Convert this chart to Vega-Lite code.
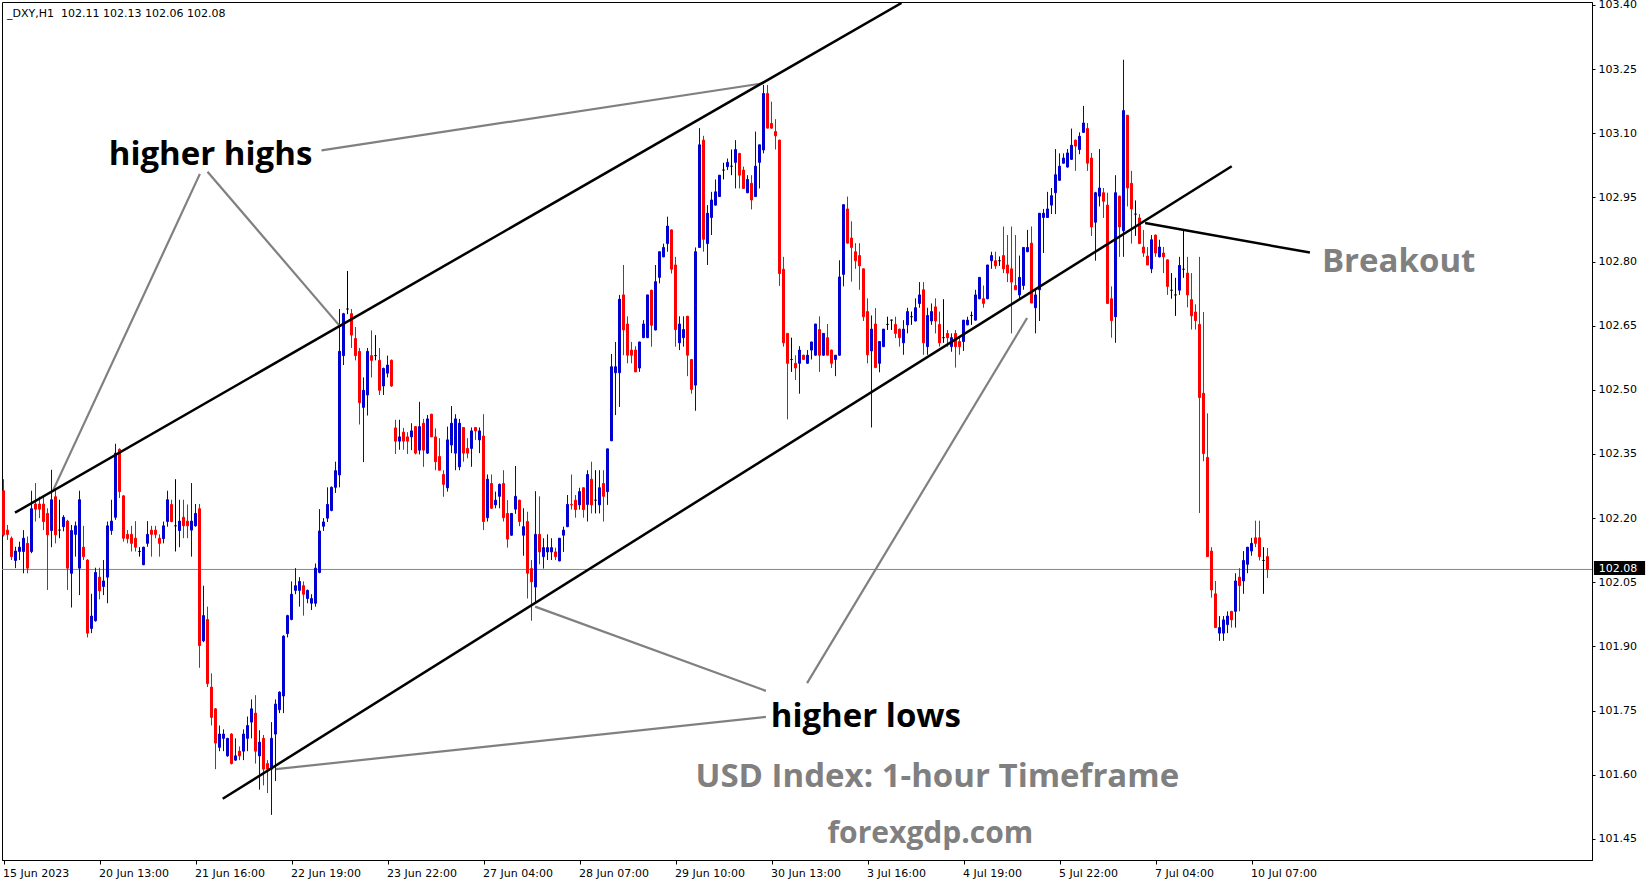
{
"$schema": "https://vega.github.io/schema/vega-lite/v6.json",
"width": 1590, "height": 858,
"autosize": {"type": "none"},
"padding": {"left": 2, "top": 2, "right": 57, "bottom": 24},
"background": "white",
"config": {"view": {"stroke": "#000000", "strokeWidth": 1}, "scale": {"continuousPadding": 0}},
"datasets": {
"candles": [
{"i":0,"o":102.264,"h":102.291,"l":102.157,"c":102.161},
{"i":1,"o":102.172,"h":102.184,"l":102.149,"c":102.162},
{"i":2,"o":102.153,"h":102.157,"l":102.102,"c":102.110},
{"i":3,"o":102.101,"h":102.133,"l":102.083,"c":102.123},
{"i":4,"o":102.122,"h":102.145,"l":102.102,"c":102.132},
{"i":5,"o":102.122,"h":102.172,"l":102.071,"c":102.153},
{"i":6,"o":102.141,"h":102.157,"l":102.071,"c":102.083},
{"i":7,"o":102.122,"h":102.264,"l":102.118,"c":102.222},
{"i":8,"o":102.233,"h":102.282,"l":102.192,"c":102.221},
{"i":9,"o":102.233,"h":102.250,"l":102.200,"c":102.221},
{"i":10,"o":102.233,"h":102.250,"l":102.172,"c":102.192},
{"i":11,"o":102.211,"h":102.223,"l":102.032,"c":102.161},
{"i":12,"o":102.171,"h":102.313,"l":102.132,"c":102.243},
{"i":13,"o":102.250,"h":102.266,"l":102.141,"c":102.161},
{"i":14,"o":102.172,"h":102.243,"l":102.153,"c":102.172},
{"i":15,"o":102.180,"h":102.207,"l":102.169,"c":102.202},
{"i":16,"o":102.193,"h":102.196,"l":102.032,"c":102.083},
{"i":17,"o":102.071,"h":102.184,"l":101.991,"c":102.171},
{"i":18,"o":102.162,"h":102.192,"l":102.110,"c":102.182},
{"i":19,"o":102.083,"h":102.264,"l":102.020,"c":102.243},
{"i":20,"o":102.132,"h":102.182,"l":102.102,"c":102.110},
{"i":21,"o":102.102,"h":102.104,"l":101.921,"c":101.931},
{"i":22,"o":101.942,"h":102.023,"l":101.931,"c":101.971},
{"i":23,"o":101.960,"h":102.084,"l":101.958,"c":102.073},
{"i":24,"o":102.062,"h":102.084,"l":102.010,"c":102.030},
{"i":25,"o":102.040,"h":102.102,"l":102.020,"c":102.053},
{"i":26,"o":102.062,"h":102.192,"l":102.001,"c":102.182},
{"i":27,"o":102.171,"h":102.243,"l":102.161,"c":102.193},
{"i":28,"o":102.202,"h":102.374,"l":102.196,"c":102.352},
{"i":29,"o":102.361,"h":102.363,"l":102.247,"c":102.262},
{"i":30,"o":102.252,"h":102.254,"l":102.145,"c":102.153},
{"i":31,"o":102.162,"h":102.172,"l":102.141,"c":102.152},
{"i":32,"o":102.162,"h":102.182,"l":102.122,"c":102.141},
{"i":33,"o":102.153,"h":102.193,"l":102.122,"c":102.132},
{"i":34,"o":102.122,"h":102.132,"l":102.110,"c":102.122},
{"i":35,"o":102.091,"h":102.133,"l":102.090,"c":102.132},
{"i":36,"o":102.141,"h":102.193,"l":102.133,"c":102.162},
{"i":37,"o":102.172,"h":102.182,"l":102.110,"c":102.162},
{"i":38,"o":102.172,"h":102.182,"l":102.153,"c":102.162},
{"i":39,"o":102.153,"h":102.162,"l":102.110,"c":102.141},
{"i":40,"o":102.152,"h":102.192,"l":102.141,"c":102.182},
{"i":41,"o":102.192,"h":102.264,"l":102.180,"c":102.243},
{"i":42,"o":102.232,"h":102.243,"l":102.190,"c":102.192},
{"i":43,"o":102.182,"h":102.291,"l":102.122,"c":102.182},
{"i":44,"o":102.171,"h":102.243,"l":102.132,"c":102.193},
{"i":45,"o":102.202,"h":102.243,"l":102.153,"c":102.182},
{"i":46,"o":102.193,"h":102.232,"l":102.153,"c":102.182},
{"i":47,"o":102.172,"h":102.282,"l":102.110,"c":102.193},
{"i":48,"o":102.182,"h":102.233,"l":102.180,"c":102.211},
{"i":49,"o":102.222,"h":102.233,"l":101.850,"c":101.902},
{"i":50,"o":101.913,"h":102.042,"l":101.910,"c":101.972},
{"i":51,"o":101.963,"h":101.993,"l":101.805,"c":101.813},
{"i":52,"o":101.805,"h":101.837,"l":101.715,"c":101.734},
{"i":53,"o":101.754,"h":101.756,"l":101.613,"c":101.674},
{"i":54,"o":101.664,"h":101.715,"l":101.655,"c":101.695},
{"i":55,"o":101.685,"h":101.706,"l":101.655,"c":101.695},
{"i":56,"o":101.644,"h":101.686,"l":101.642,"c":101.685},
{"i":57,"o":101.695,"h":101.697,"l":101.624,"c":101.626},
{"i":58,"o":101.634,"h":101.685,"l":101.632,"c":101.644},
{"i":59,"o":101.655,"h":101.666,"l":101.634,"c":101.644},
{"i":60,"o":101.655,"h":101.706,"l":101.634,"c":101.695},
{"i":61,"o":101.685,"h":101.736,"l":101.655,"c":101.715},
{"i":62,"o":101.723,"h":101.776,"l":101.685,"c":101.754},
{"i":63,"o":101.744,"h":101.786,"l":101.626,"c":101.655},
{"i":64,"o":101.644,"h":101.704,"l":101.565,"c":101.676},
{"i":65,"o":101.685,"h":101.693,"l":101.575,"c":101.613},
{"i":66,"o":101.626,"h":101.634,"l":101.557,"c":101.613},
{"i":67,"o":101.613,"h":101.723,"l":101.506,"c":101.685},
{"i":68,"o":101.695,"h":101.776,"l":101.585,"c":101.765},
{"i":69,"o":101.752,"h":101.795,"l":101.744,"c":101.793},
{"i":70,"o":101.784,"h":101.926,"l":101.744,"c":101.924},
{"i":71,"o":101.930,"h":101.974,"l":101.921,"c":101.972},
{"i":72,"o":101.963,"h":102.052,"l":101.961,"c":102.022},
{"i":73,"o":102.031,"h":102.083,"l":102.022,"c":102.042},
{"i":74,"o":102.031,"h":102.062,"l":101.993,"c":102.052},
{"i":75,"o":102.042,"h":102.052,"l":101.972,"c":102.022},
{"i":76,"o":102.012,"h":102.033,"l":102.001,"c":102.031},
{"i":77,"o":102.001,"h":102.022,"l":101.985,"c":102.012},
{"i":78,"o":102.001,"h":102.094,"l":101.993,"c":102.083},
{"i":79,"o":102.073,"h":102.221,"l":102.071,"c":102.170},
{"i":80,"o":102.181,"h":102.200,"l":102.170,"c":102.191},
{"i":81,"o":102.200,"h":102.272,"l":102.191,"c":102.232},
{"i":82,"o":102.218,"h":102.274,"l":102.216,"c":102.272},
{"i":83,"o":102.272,"h":102.332,"l":102.259,"c":102.311},
{"i":84,"o":102.301,"h":102.689,"l":102.272,"c":102.590},
{"i":85,"o":102.580,"h":102.680,"l":102.558,"c":102.678},
{"i":86,"o":102.689,"h":102.778,"l":102.677,"c":102.689},
{"i":87,"o":102.678,"h":102.689,"l":102.598,"c":102.628},
{"i":88,"o":102.620,"h":102.647,"l":102.569,"c":102.580},
{"i":89,"o":102.590,"h":102.598,"l":102.419,"c":102.470},
{"i":90,"o":102.459,"h":102.529,"l":102.331,"c":102.499},
{"i":91,"o":102.488,"h":102.598,"l":102.440,"c":102.590},
{"i":92,"o":102.580,"h":102.639,"l":102.529,"c":102.569},
{"i":93,"o":102.580,"h":102.628,"l":102.569,"c":102.580},
{"i":94,"o":102.569,"h":102.598,"l":102.488,"c":102.499},
{"i":95,"o":102.509,"h":102.552,"l":102.488,"c":102.550},
{"i":96,"o":102.539,"h":102.580,"l":102.529,"c":102.558},
{"i":97,"o":102.569,"h":102.571,"l":102.507,"c":102.509},
{"i":98,"o":102.411,"h":102.430,"l":102.350,"c":102.380},
{"i":99,"o":102.380,"h":102.430,"l":102.360,"c":102.390},
{"i":100,"o":102.401,"h":102.411,"l":102.360,"c":102.380},
{"i":101,"o":102.390,"h":102.401,"l":102.350,"c":102.380},
{"i":102,"o":102.390,"h":102.422,"l":102.359,"c":102.404},
{"i":103,"o":102.414,"h":102.415,"l":102.349,"c":102.352},
{"i":104,"o":102.359,"h":102.472,"l":102.349,"c":102.414},
{"i":105,"o":102.422,"h":102.432,"l":102.320,"c":102.359},
{"i":106,"o":102.352,"h":102.441,"l":102.350,"c":102.432},
{"i":107,"o":102.443,"h":102.444,"l":102.390,"c":102.390},
{"i":108,"o":102.390,"h":102.410,"l":102.312,"c":102.332},
{"i":109,"o":102.344,"h":102.387,"l":102.312,"c":102.312},
{"i":110,"o":102.302,"h":102.312,"l":102.250,"c":102.279},
{"i":111,"o":102.271,"h":102.414,"l":102.262,"c":102.383},
{"i":112,"o":102.371,"h":102.462,"l":102.352,"c":102.422},
{"i":113,"o":102.352,"h":102.443,"l":102.312,"c":102.432},
{"i":114,"o":102.320,"h":102.432,"l":102.312,"c":102.422},
{"i":115,"o":102.412,"h":102.413,"l":102.332,"c":102.352},
{"i":116,"o":102.363,"h":102.387,"l":102.340,"c":102.352},
{"i":117,"o":102.363,"h":102.412,"l":102.320,"c":102.404},
{"i":118,"o":102.412,"h":102.413,"l":102.383,"c":102.404},
{"i":119,"o":102.383,"h":102.412,"l":102.352,"c":102.404},
{"i":120,"o":102.392,"h":102.443,"l":102.172,"c":102.192},
{"i":121,"o":102.201,"h":102.302,"l":102.192,"c":102.291},
{"i":122,"o":102.281,"h":102.302,"l":102.222,"c":102.223},
{"i":123,"o":102.231,"h":102.262,"l":102.223,"c":102.242},
{"i":124,"o":102.251,"h":102.281,"l":102.223,"c":102.279},
{"i":125,"o":102.281,"h":102.312,"l":102.192,"c":102.201},
{"i":126,"o":102.211,"h":102.242,"l":102.131,"c":102.151},
{"i":127,"o":102.160,"h":102.212,"l":102.159,"c":102.211},
{"i":128,"o":102.221,"h":102.322,"l":102.210,"c":102.251},
{"i":129,"o":102.242,"h":102.243,"l":102.181,"c":102.192},
{"i":130,"o":102.160,"h":102.223,"l":102.112,"c":102.180},
{"i":131,"o":102.192,"h":102.215,"l":102.012,"c":102.071},
{"i":132,"o":102.082,"h":102.102,"l":101.960,"c":102.051},
{"i":133,"o":102.039,"h":102.263,"l":102.003,"c":102.162},
{"i":134,"o":102.162,"h":102.251,"l":102.092,"c":102.121},
{"i":135,"o":102.110,"h":102.153,"l":102.082,"c":102.131},
{"i":136,"o":102.121,"h":102.162,"l":102.102,"c":102.131},
{"i":137,"o":102.121,"h":102.153,"l":102.102,"c":102.131},
{"i":138,"o":102.121,"h":102.131,"l":102.102,"c":102.110},
{"i":139,"o":102.100,"h":102.153,"l":102.099,"c":102.153},
{"i":140,"o":102.160,"h":102.180,"l":102.121,"c":102.172},
{"i":141,"o":102.180,"h":102.254,"l":102.179,"c":102.232},
{"i":142,"o":102.232,"h":102.302,"l":102.220,"c":102.231},
{"i":143,"o":102.242,"h":102.254,"l":102.201,"c":102.220},
{"i":144,"o":102.231,"h":102.271,"l":102.220,"c":102.262},
{"i":145,"o":102.271,"h":102.272,"l":102.201,"c":102.220},
{"i":146,"o":102.232,"h":102.312,"l":102.192,"c":102.302},
{"i":147,"o":102.291,"h":102.332,"l":102.211,"c":102.231},
{"i":148,"o":102.242,"h":102.312,"l":102.211,"c":102.242},
{"i":149,"o":102.231,"h":102.312,"l":102.211,"c":102.271},
{"i":150,"o":102.281,"h":102.312,"l":102.192,"c":102.251},
{"i":151,"o":102.262,"h":102.362,"l":102.231,"c":102.362},
{"i":152,"o":102.381,"h":102.584,"l":102.380,"c":102.554},
{"i":153,"o":102.540,"h":102.612,"l":102.441,"c":102.554},
{"i":154,"o":102.540,"h":102.722,"l":102.460,"c":102.712},
{"i":155,"o":102.722,"h":102.792,"l":102.581,"c":102.640},
{"i":156,"o":102.654,"h":102.672,"l":102.562,"c":102.581},
{"i":157,"o":102.593,"h":102.612,"l":102.562,"c":102.581},
{"i":158,"o":102.593,"h":102.602,"l":102.542,"c":102.542},
{"i":159,"o":102.551,"h":102.612,"l":102.542,"c":102.612},
{"i":160,"o":102.622,"h":102.663,"l":102.621,"c":102.654},
{"i":161,"o":102.622,"h":102.722,"l":102.621,"c":102.722},
{"i":162,"o":102.733,"h":102.734,"l":102.601,"c":102.651},
{"i":163,"o":102.640,"h":102.792,"l":102.639,"c":102.753},
{"i":164,"o":102.763,"h":102.823,"l":102.749,"c":102.823},
{"i":165,"o":102.811,"h":102.842,"l":102.810,"c":102.833},
{"i":166,"o":102.842,"h":102.905,"l":102.823,"c":102.883},
{"i":167,"o":102.874,"h":102.875,"l":102.772,"c":102.782},
{"i":168,"o":102.792,"h":102.811,"l":102.601,"c":102.641},
{"i":169,"o":102.610,"h":102.672,"l":102.593,"c":102.654},
{"i":170,"o":102.622,"h":102.672,"l":102.601,"c":102.641},
{"i":171,"o":102.672,"h":102.673,"l":102.532,"c":102.581},
{"i":172,"o":102.571,"h":102.572,"l":102.491,"c":102.501},
{"i":173,"o":102.511,"h":102.833,"l":102.451,"c":102.823},
{"i":174,"o":102.833,"h":103.112,"l":102.832,"c":103.073},
{"i":175,"o":103.084,"h":103.094,"l":102.823,"c":102.852},
{"i":176,"o":102.842,"h":102.932,"l":102.792,"c":102.913},
{"i":177,"o":102.903,"h":102.963,"l":102.862,"c":102.944},
{"i":178,"o":102.932,"h":102.992,"l":102.931,"c":102.963},
{"i":179,"o":102.952,"h":103.002,"l":102.951,"c":103.002},
{"i":180,"o":103.014,"h":103.031,"l":102.992,"c":103.014},
{"i":181,"o":103.022,"h":103.041,"l":103.014,"c":103.032},
{"i":182,"o":103.023,"h":103.062,"l":103.002,"c":103.023},
{"i":183,"o":103.032,"h":103.084,"l":102.971,"c":103.062},
{"i":184,"o":103.053,"h":103.054,"l":102.971,"c":103.002},
{"i":185,"o":103.014,"h":103.022,"l":102.971,"c":102.971},
{"i":186,"o":102.961,"h":103.002,"l":102.960,"c":102.992},
{"i":187,"o":102.983,"h":103.002,"l":102.922,"c":102.944},
{"i":188,"o":102.952,"h":103.104,"l":102.951,"c":103.023},
{"i":189,"o":103.032,"h":103.073,"l":102.971,"c":103.073},
{"i":190,"o":103.061,"h":103.213,"l":103.053,"c":103.193},
{"i":191,"o":103.193,"h":103.213,"l":103.112,"c":103.112},
{"i":192,"o":103.123,"h":103.174,"l":103.111,"c":103.112},
{"i":193,"o":103.104,"h":103.133,"l":103.062,"c":103.094},
{"i":194,"o":103.084,"h":103.085,"l":102.743,"c":102.772},
{"i":195,"o":102.782,"h":102.811,"l":102.601,"c":102.610},
{"i":196,"o":102.632,"h":102.633,"l":102.431,"c":102.562},
{"i":197,"o":102.571,"h":102.622,"l":102.542,"c":102.571},
{"i":198,"o":102.562,"h":102.581,"l":102.523,"c":102.551},
{"i":199,"o":102.562,"h":102.602,"l":102.491,"c":102.593},
{"i":200,"o":102.581,"h":102.582,"l":102.570,"c":102.571},
{"i":201,"o":102.562,"h":102.593,"l":102.561,"c":102.581},
{"i":202,"o":102.593,"h":102.612,"l":102.571,"c":102.612},
{"i":203,"o":102.581,"h":102.654,"l":102.580,"c":102.654},
{"i":204,"o":102.641,"h":102.672,"l":102.542,"c":102.581},
{"i":205,"o":102.581,"h":102.632,"l":102.580,"c":102.632},
{"i":206,"o":102.622,"h":102.654,"l":102.581,"c":102.581},
{"i":207,"o":102.593,"h":102.594,"l":102.551,"c":102.562},
{"i":208,"o":102.571,"h":102.581,"l":102.532,"c":102.581},
{"i":209,"o":102.581,"h":102.803,"l":102.580,"c":102.764},
{"i":210,"o":102.770,"h":102.933,"l":102.742,"c":102.933},
{"i":211,"o":102.923,"h":102.952,"l":102.843,"c":102.843},
{"i":212,"o":102.855,"h":102.894,"l":102.753,"c":102.833},
{"i":213,"o":102.823,"h":102.843,"l":102.783,"c":102.802},
{"i":214,"o":102.814,"h":102.843,"l":102.734,"c":102.790},
{"i":215,"o":102.783,"h":102.784,"l":102.661,"c":102.671},
{"i":216,"o":102.683,"h":102.714,"l":102.562,"c":102.582},
{"i":217,"o":102.591,"h":102.674,"l":102.412,"c":102.642},
{"i":218,"o":102.654,"h":102.691,"l":102.552,"c":102.552},
{"i":219,"o":102.562,"h":102.613,"l":102.541,"c":102.613},
{"i":220,"o":102.601,"h":102.642,"l":102.600,"c":102.642},
{"i":221,"o":102.653,"h":102.671,"l":102.640,"c":102.653},
{"i":222,"o":102.663,"h":102.664,"l":102.640,"c":102.663},
{"i":223,"o":102.653,"h":102.671,"l":102.621,"c":102.632},
{"i":224,"o":102.642,"h":102.643,"l":102.601,"c":102.622},
{"i":225,"o":102.610,"h":102.663,"l":102.582,"c":102.642},
{"i":226,"o":102.652,"h":102.692,"l":102.632,"c":102.683},
{"i":227,"o":102.671,"h":102.683,"l":102.652,"c":102.671},
{"i":228,"o":102.661,"h":102.714,"l":102.660,"c":102.692},
{"i":229,"o":102.702,"h":102.752,"l":102.692,"c":102.722},
{"i":230,"o":102.734,"h":102.752,"l":102.582,"c":102.610},
{"i":231,"o":102.601,"h":102.692,"l":102.582,"c":102.674},
{"i":232,"o":102.661,"h":102.702,"l":102.652,"c":102.683},
{"i":233,"o":102.694,"h":102.714,"l":102.632,"c":102.661},
{"i":234,"o":102.653,"h":102.683,"l":102.601,"c":102.610},
{"i":235,"o":102.622,"h":102.712,"l":102.610,"c":102.622},
{"i":236,"o":102.632,"h":102.640,"l":102.601,"c":102.622},
{"i":237,"o":102.601,"h":102.632,"l":102.589,"c":102.622},
{"i":238,"o":102.632,"h":102.640,"l":102.552,"c":102.601},
{"i":239,"o":102.613,"h":102.622,"l":102.582,"c":102.601},
{"i":240,"o":102.613,"h":102.663,"l":102.591,"c":102.663},
{"i":241,"o":102.652,"h":102.671,"l":102.651,"c":102.663},
{"i":242,"o":102.674,"h":102.683,"l":102.652,"c":102.674},
{"i":243,"o":102.663,"h":102.734,"l":102.662,"c":102.722},
{"i":244,"o":102.713,"h":102.763,"l":102.712,"c":102.763},
{"i":245,"o":102.713,"h":102.744,"l":102.692,"c":102.702},
{"i":246,"o":102.713,"h":102.792,"l":102.712,"c":102.792},
{"i":247,"o":102.802,"h":102.823,"l":102.783,"c":102.814},
{"i":248,"o":102.802,"h":102.823,"l":102.783,"c":102.790},
{"i":249,"o":102.802,"h":102.812,"l":102.790,"c":102.802},
{"i":250,"o":102.814,"h":102.882,"l":102.773,"c":102.783},
{"i":251,"o":102.792,"h":102.862,"l":102.752,"c":102.773},
{"i":252,"o":102.783,"h":102.882,"l":102.632,"c":102.752},
{"i":253,"o":102.744,"h":102.862,"l":102.734,"c":102.734},
{"i":254,"o":102.722,"h":102.814,"l":102.714,"c":102.763},
{"i":255,"o":102.744,"h":102.833,"l":102.734,"c":102.833},
{"i":256,"o":102.823,"h":102.874,"l":102.822,"c":102.833},
{"i":257,"o":102.843,"h":102.882,"l":102.703,"c":102.703},
{"i":258,"o":102.692,"h":102.734,"l":102.632,"c":102.722},
{"i":259,"o":102.734,"h":102.913,"l":102.661,"c":102.913},
{"i":260,"o":102.903,"h":102.923,"l":102.820,"c":102.913},
{"i":261,"o":102.903,"h":102.963,"l":102.902,"c":102.923},
{"i":262,"o":102.932,"h":102.972,"l":102.911,"c":102.954},
{"i":263,"o":102.961,"h":103.063,"l":102.911,"c":103.003},
{"i":264,"o":102.990,"h":103.053,"l":102.989,"c":103.023},
{"i":265,"o":103.030,"h":103.053,"l":103.029,"c":103.042},
{"i":266,"o":103.021,"h":103.063,"l":103.020,"c":103.054},
{"i":267,"o":103.039,"h":103.111,"l":103.038,"c":103.072},
{"i":268,"o":103.084,"h":103.085,"l":103.012,"c":103.070},
{"i":269,"o":103.062,"h":103.102,"l":103.051,"c":103.093},
{"i":270,"o":103.102,"h":103.164,"l":103.101,"c":103.124},
{"i":271,"o":103.111,"h":103.124,"l":103.012,"c":103.030},
{"i":272,"o":103.042,"h":103.054,"l":102.860,"c":102.881},
{"i":273,"o":102.892,"h":102.963,"l":102.802,"c":102.961},
{"i":274,"o":102.953,"h":103.063,"l":102.929,"c":102.972},
{"i":275,"o":102.961,"h":102.972,"l":102.902,"c":102.941},
{"i":276,"o":102.932,"h":102.961,"l":102.702,"c":102.702},
{"i":277,"o":102.713,"h":102.742,"l":102.622,"c":102.662},
{"i":278,"o":102.671,"h":103.002,"l":102.610,"c":102.961},
{"i":279,"o":102.953,"h":102.954,"l":102.811,"c":102.881},
{"i":280,"o":102.872,"h":103.272,"l":102.811,"c":103.153},
{"i":281,"o":103.142,"h":103.143,"l":102.929,"c":102.972},
{"i":282,"o":102.983,"h":103.012,"l":102.842,"c":102.923},
{"i":283,"o":102.911,"h":102.943,"l":102.860,"c":102.911},
{"i":284,"o":102.902,"h":102.911,"l":102.842,"c":102.842},
{"i":285,"o":102.834,"h":102.874,"l":102.811,"c":102.820},
{"i":286,"o":102.813,"h":102.834,"l":102.792,"c":102.792},
{"i":287,"o":102.783,"h":102.862,"l":102.773,"c":102.851},
{"i":288,"o":102.862,"h":102.863,"l":102.811,"c":102.820},
{"i":289,"o":102.811,"h":102.851,"l":102.810,"c":102.834},
{"i":290,"o":102.820,"h":102.834,"l":102.773,"c":102.811},
{"i":291,"o":102.804,"h":102.805,"l":102.722,"c":102.742},
{"i":292,"o":102.733,"h":102.773,"l":102.713,"c":102.733},
{"i":293,"o":102.722,"h":102.762,"l":102.673,"c":102.722},
{"i":294,"o":102.733,"h":102.811,"l":102.722,"c":102.791},
{"i":295,"o":102.782,"h":102.874,"l":102.762,"c":102.782},
{"i":296,"o":102.773,"h":102.811,"l":102.693,"c":102.722},
{"i":297,"o":102.711,"h":102.773,"l":102.641,"c":102.673},
{"i":298,"o":102.682,"h":102.700,"l":102.641,"c":102.662},
{"i":299,"o":102.653,"h":102.811,"l":102.212,"c":102.482},
{"i":300,"o":102.492,"h":102.682,"l":102.333,"c":102.351},
{"i":301,"o":102.342,"h":102.445,"l":102.110,"c":102.110},
{"i":302,"o":102.123,"h":102.132,"l":102.014,"c":102.032},
{"i":303,"o":102.023,"h":102.053,"l":101.944,"c":101.944},
{"i":304,"o":101.931,"h":101.971,"l":101.913,"c":101.944},
{"i":305,"o":101.931,"h":101.971,"l":101.913,"c":101.962},
{"i":306,"o":101.951,"h":101.982,"l":101.931,"c":101.971},
{"i":307,"o":101.982,"h":101.983,"l":101.944,"c":101.962},
{"i":308,"o":101.982,"h":102.071,"l":101.944,"c":102.053},
{"i":309,"o":102.062,"h":102.083,"l":101.982,"c":102.042},
{"i":310,"o":102.053,"h":102.123,"l":102.023,"c":102.101},
{"i":311,"o":102.092,"h":102.132,"l":102.071,"c":102.132},
{"i":312,"o":102.123,"h":102.154,"l":102.112,"c":102.141},
{"i":313,"o":102.154,"h":102.194,"l":102.132,"c":102.141},
{"i":314,"o":102.154,"h":102.194,"l":102.101,"c":102.110},
{"i":315,"o":102.101,"h":102.132,"l":102.023,"c":102.101},
{"i":316,"o":102.110,"h":102.130,"l":102.060,"c":102.080}
],
"blackLines": [
{"g":"upper","x":2.875,"y":102.2127},{"g":"upper","x":224.5,"y":103.4047},
{"g":"lower","x":54.8,"y":101.5436},{"g":"lower","x":307.05,"y":103.0228},
{"g":"breakout","x":285.4,"y":102.890},{"g":"breakout","x":326.6,"y":102.821}
],
"grayLines": [
{"g":"hh1","x":49.1,"y":103.005},{"g":"hh1","x":12.45,"y":102.266},
{"g":"hh2","x":51.0,"y":103.010},{"g":"hh2","x":84.1,"y":102.649},
{"g":"hh3","x":79.5,"y":103.060},{"g":"hh3","x":189.95,"y":103.217},
{"g":"hl1","x":132.9,"y":101.993},{"g":"hl1","x":190.6,"y":101.796},
{"g":"hl2","x":68.1,"y":101.613},{"g":"hl2","x":190.6,"y":101.735},
{"g":"hl3","x":200.9,"y":101.814},{"g":"hl3","x":255.9,"y":102.668}
],
"blackText": [
{"t":"higher highs","x":26.3,"y":103.0247},
{"t":"higher lows","x":191.8,"y":101.7115}
],
"grayText": [
{"t":"Breakout","x":329.6,"y":102.7756},
{"t":"USD Index: 1-hour Timeframe","x":173.0,"y":101.5705}
],
"siteText": [
{"t":"forexgdp.com","x":206.0,"y":101.4402}
],
"header": [
{"t":"_DXY,H1\u00a0 102.11 102.13 102.06 102.08","x":0.875,"y":103.3712}
],
"last": [
{"p":102.08}
]
},
"layer": [
{
"data": {"name": "last"},
"mark": {"type": "rule", "color": "#778899", "strokeWidth": 1},
"encoding": {
"y": {"field": "p", "type": "quantitative", "title": null}
}
},
{
"data": {"name": "candles"},
"mark": {"type": "rule", "strokeWidth": 1},
"encoding": {
"x": {"field": "i", "type": "quantitative", "title": null,
"scale": {"domain": [-0.375, 397.125], "nice": false, "zero": false, "padding": 0},
"axis": {"title": null, "values": [0,24,48,72,96,120,144,168,192,216,240,264,288,312],
"labelExpr": "['15 Jun 2023','20 Jun 13:00','21 Jun 16:00','22 Jun 19:00','23 Jun 22:00','27 Jun 04:00','28 Jun 07:00','29 Jun 10:00','30 Jun 13:00','3 Jul 16:00','4 Jul 19:00','5 Jul 22:00','7 Jul 04:00','10 Jul 07:00'][round(datum.value/24)]",
"labelAlign": "left", "labelBaseline": "top", "labelPadding": 3, "labelOffset": -1, "tickSize": 4,
"tickColor": "#000000", "domainColor": "#000000", "labelColor": "#000000",
"labelFont": "DejaVu Sans", "labelFontSize": 11, "grid": false,
"labelOverlap": false, "labelFlush": false}},
"y": {"field": "l", "type": "quantitative", "title": null,
"scale": {"domain": [101.4005, 103.407], "nice": false, "zero": false, "padding": 0},
"axis": {"title": null, "orient": "right",
"values": [101.45,101.6,101.75,101.9,102.05,102.2,102.35,102.5,102.65,102.8,102.95,103.1,103.25,103.4],
"format": ".2f", "tickSize": 3, "labelPadding": 3,
"tickColor": "#000000", "domainColor": "#000000", "labelColor": "#000000",
"labelFont": "DejaVu Sans", "labelFontSize": 11, "grid": false,
"labelOverlap": false, "labelFlush": false}},
"y2": {"field": "h"},
"color": {"condition": [{"test": "datum.c > datum.o", "value": "#0000d0"}, {"test": "datum.c < datum.o", "value": "#ff0000"}], "value": "#000000"}
}
},
{
"data": {"name": "candles"},
"mark": {"type": "bar", "width": 2, "strokeWidth": 1},
"encoding": {
"x": {"field": "i", "type": "quantitative", "title": null},
"y": {"field": "o", "type": "quantitative", "title": null},
"y2": {"field": "c"},
"color": {"condition": [{"test": "datum.c > datum.o", "value": "#0000d0"}, {"test": "datum.c < datum.o", "value": "#ff0000"}], "value": "#000000"},
"stroke": {"condition": [{"test": "datum.c > datum.o", "value": "#0000d0"}, {"test": "datum.c < datum.o", "value": "#ff0000"}], "value": "#000000"}
}
},
{
"data": {"name": "grayLines"},
"mark": {"type": "line", "color": "#808080", "strokeWidth": 2.2},
"encoding": {
"x": {"field": "x", "type": "quantitative", "title": null},
"y": {"field": "y", "type": "quantitative", "title": null},
"detail": {"field": "g"}
}
},
{
"data": {"name": "blackLines"},
"mark": {"type": "line", "color": "#000000", "strokeWidth": 2.5, "clip": true},
"encoding": {
"x": {"field": "x", "type": "quantitative", "title": null},
"y": {"field": "y", "type": "quantitative", "title": null},
"detail": {"field": "g"}
}
},
{
"data": {"name": "blackText"},
"mark": {"type": "text", "align": "left", "baseline": "alphabetic", "font": "Open Sans", "fontWeight": "bold", "fontSize": 33, "color": "#000000"},
"encoding": {
"x": {"field": "x", "type": "quantitative", "title": null},
"y": {"field": "y", "type": "quantitative", "title": null},
"text": {"field": "t"}
}
},
{
"data": {"name": "grayText"},
"mark": {"type": "text", "align": "left", "baseline": "alphabetic", "font": "Open Sans", "fontWeight": "bold", "fontSize": 33, "color": "#808080"},
"encoding": {
"x": {"field": "x", "type": "quantitative", "title": null},
"y": {"field": "y", "type": "quantitative", "title": null},
"text": {"field": "t"}
}
},
{
"data": {"name": "siteText"},
"mark": {"type": "text", "align": "left", "baseline": "alphabetic", "font": "Open Sans", "fontWeight": "bold", "fontSize": 30, "color": "#808080"},
"encoding": {
"x": {"field": "x", "type": "quantitative", "title": null},
"y": {"field": "y", "type": "quantitative", "title": null},
"text": {"field": "t"}
}
},
{
"data": {"name": "header"},
"mark": {"type": "text", "align": "left", "baseline": "alphabetic", "font": "DejaVu Sans", "fontSize": 11, "color": "#000000"},
"encoding": {
"x": {"field": "x", "type": "quantitative", "title": null},
"y": {"field": "y", "type": "quantitative", "title": null},
"text": {"field": "t"}
}
},
{
"data": {"name": "last"},
"mark": {"type": "rect", "color": "#000000"},
"encoding": {
"x": {"datum": 397.6, "type": "quantitative"},
"x2": {"datum": 410.4},
"y": {"datum": 102.0997, "type": "quantitative"},
"y2": {"datum": 102.067}
}
},
{
"data": {"name": "last"},
"mark": {"type": "text", "align": "center", "baseline": "middle", "font": "DejaVu Sans", "fontSize": 11, "color": "#ffffff"},
"encoding": {
"x": {"datum": 403.6, "type": "quantitative"},
"y": {"field": "p", "type": "quantitative", "title": null},
"text": {"field": "p", "format": ".2f"}
}
}
]
}
